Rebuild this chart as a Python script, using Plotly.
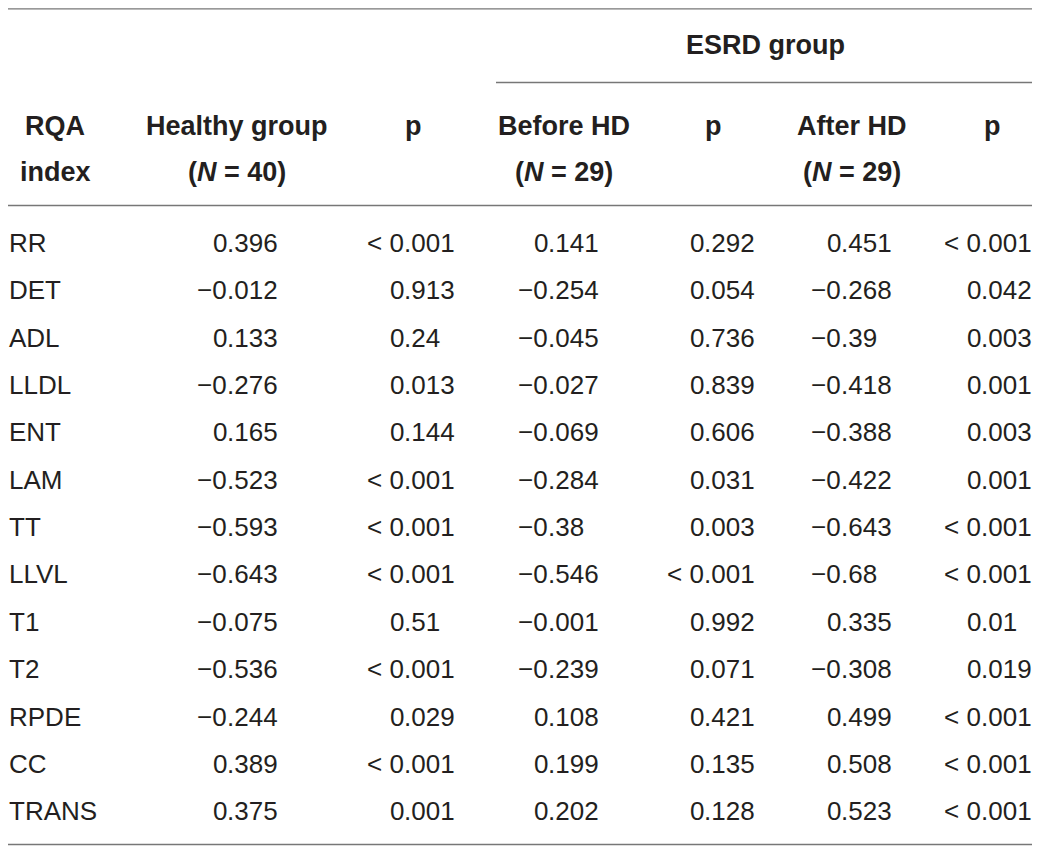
import plotly.graph_objects as go

# table data
rqa_index = ["RR", "DET", "ADL", "LLDL", "ENT", "LAM", "TT", "LLVL",
             "T1", "T2", "RPDE", "CC", "TRANS"]
healthy_r = [0.396, -0.012, 0.133, -0.276, 0.165, -0.523, -0.593, -0.643,
             -0.075, -0.536, -0.244, 0.389, 0.375]
healthy_p = ["< 0.001", "0.913", "0.24", "0.013", "0.144", "< 0.001", "< 0.001",
             "< 0.001", "0.51", "< 0.001", "0.029", "< 0.001", "0.001"]
before_r = [0.141, -0.254, -0.045, -0.027, -0.069, -0.284, -0.38, -0.546,
            -0.001, -0.239, 0.108, 0.199, 0.202]
before_p = ["0.292", "0.054", "0.736", "0.839", "0.606", "0.031", "0.003",
            "< 0.001", "0.992", "0.071", "0.421", "0.135", "0.128"]
after_r = [0.451, -0.268, -0.39, -0.418, -0.388, -0.422, -0.643, -0.68,
           0.335, -0.308, 0.499, 0.508, 0.523]
after_p = ["< 0.001", "0.042", "0.003", "0.001", "0.003", "0.001", "< 0.001",
           "< 0.001", "0.01", "0.019", "< 0.001", "< 0.001", "< 0.001"]

W, H = 1040, 851
PAD = 8          # default body margin of the html page
TXT = "#231f20"
RULE = "#777777"
FONT = "Liberation Sans"
FS = 26
FS_HEAD = 27

# layout of the table (page pixel coords)
row_y0, row_dy = 243, 47.35
label_x = 9
dec_x = [227, 404, 548, 704, 841, 981]   # decimal point of each value column
columns = [healthy_r, healthy_p, before_r, before_p, after_r, after_p]


def fmt(v):
    if isinstance(v, str):
        return v
    return str(v).replace("-", "\u2212")


fig = go.Figure()
ann = []


def add_text(x, y, text, anchor="center", bold=False):
    ann.append(dict(x=x, y=y, xref="x", yref="y", text=text, showarrow=False,
                    xanchor=anchor, yanchor="middle", borderpad=0, borderwidth=0,
                    font=dict(family=FONT, size=FS_HEAD if bold else FS, color=TXT,
                              weight="bold" if bold else "normal")))


# header
add_text(765, 45, "ESRD group", bold=True)
add_text(55, 126, "RQA", bold=True)
add_text(55, 172, "index", bold=True)
add_text(237, 126, "Healthy group", bold=True)
add_text(237, 172, "(<i>N</i> = 40)", bold=True)
add_text(413, 126, "p", bold=True)
add_text(564, 126, "Before HD", bold=True)
add_text(564, 172, "(<i>N</i> = 29)", bold=True)
add_text(713, 126, "p", bold=True)
add_text(852, 126, "After HD", bold=True)
add_text(852, 172, "(<i>N</i> = 29)", bold=True)
add_text(992, 126, "p", bold=True)

# body, values aligned on the decimal point
for i, name in enumerate(rqa_index):
    y = row_y0 + i * row_dy
    add_text(label_x, y, name, anchor="left")
    for xd, col in zip(dec_x, columns):
        s = fmt(col[i])
        whole, frac = s.split(".")
        add_text(xd, y, whole, anchor="right")
        add_text(xd, y, "." + frac, anchor="left")

# horizontal rules (top one as high as the page margin allows)
rules = [(8, 1035, 8.8), (496, 1035, 82.5), (8, 1035, 205.5), (8, 1035, 844.5)]
shapes = [dict(type="line", xref="x", yref="y", x0=a, x1=b, y0=y, y1=y,
               line=dict(color=RULE, width=1.3)) for a, b, y in rules]

# the page puts the figure PAD px from the top-left corner, so the axes
# start at PAD to keep page pixels and data units the same
fig.update_layout(
    width=W - PAD, height=H - PAD,
    margin=dict(l=0, r=0, t=0, b=0),
    paper_bgcolor="white", plot_bgcolor="white",
    xaxis=dict(range=[PAD, W], visible=False, fixedrange=True),
    yaxis=dict(range=[H, PAD], visible=False, fixedrange=True),
    annotations=ann, shapes=shapes, showlegend=False,
)

fig.write_html("out.html")
